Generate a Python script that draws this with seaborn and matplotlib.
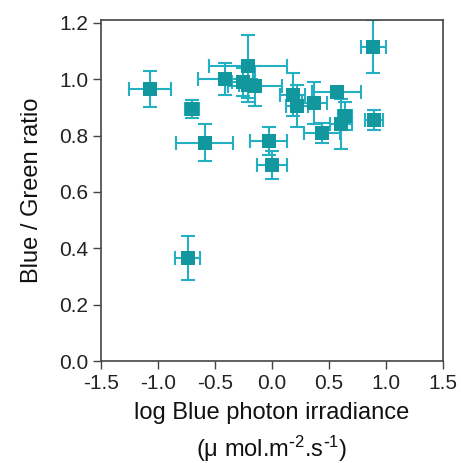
import numpy as np
import pandas as pd
import matplotlib
matplotlib.use("Agg")
import matplotlib.pyplot as plt
import seaborn as sns

# values
log_irradiance = [-1.07, -0.70, -0.59, -0.41, -0.21, -0.25, -0.21, -0.15, 0.18, 0.22,
                  0.37, 0.57, 0.64, 0.605, 0.44, 0.895, 0.89, -0.03, 0.00, -0.74]
bg_ratio = [0.965, 0.895, 0.775, 1.00, 1.045, 0.99, 0.98, 0.975, 0.945, 0.905,
            0.915, 0.955, 0.87, 0.84, 0.81, 0.855, 1.115, 0.78, 0.695, 0.365]
x_err = [0.18, 0.06, 0.25, 0.24, 0.34, 0.10, 0.08, 0.24, 0.11, 0.10,
         0.11, 0.215, 0.06, 0.10, 0.16, 0.08, 0.11, 0.16, 0.13, 0.11]
y_err = [0.065, 0.032, 0.067, 0.057, 0.113, 0.05, 0.06, 0.07, 0.075, 0.074,
         0.074, 0.01, 0.05, 0.088, 0.035, 0.035, 0.095, 0.05, 0.05, 0.077]

df = pd.DataFrame({"x": log_irradiance, "y": bg_ratio, "xe": x_err, "ye": y_err})

sns.set_style("ticks")
plt.rcParams['font.family'] = ['Liberation Sans', 'DejaVu Sans']
plt.rcParams['mathtext.default'] = 'regular'
plt.rcParams['axes.unicode_minus'] = False

fig = plt.figure(figsize=(4.61, 4.63), dpi=100)
ax = fig.add_axes([0.219, 0.22, 0.742, 0.737])

ax.errorbar(df["x"], df["y"], xerr=df["xe"], yerr=df["ye"], fmt='none',
            ecolor='#22b0c2', elinewidth=1.5, capsize=5, capthick=1.5, zorder=2)
sns.scatterplot(data=df, x="x", y="y", marker='s', s=100, color='#12979f',
                edgecolor='#12979f', linewidth=0, ax=ax, zorder=3)

ax.set_xlim(-1.5, 1.5)
ax.set_ylim(0, 1.21)
ax.set_xticks(np.arange(-1.5, 1.51, 0.5))
ax.set_yticks(np.arange(0, 1.21, 0.2))
ax.xaxis.set_major_formatter(matplotlib.ticker.FormatStrFormatter('%.1f'))
ax.yaxis.set_major_formatter(matplotlib.ticker.FormatStrFormatter('%.1f'))
ax.tick_params(direction='out', length=6, width=1, labelsize=15, color='#444444',
               labelcolor='#222222', pad=3)
for s in ax.spines.values():
    s.set_color('#444444')
    s.set_linewidth(1.2)

ax.set_xlabel("log Blue photon irradiance\n($\\mu$ mol.m$^{\\text{-}2}$.s$^{\\text{-}1}$)", fontsize=17,
              linespacing=1.4, labelpad=7, color='#111111')
ax.set_ylabel("Blue / Green ratio", fontsize=17, labelpad=12, color='#111111')

fig.savefig("out.png", dpi=100)
